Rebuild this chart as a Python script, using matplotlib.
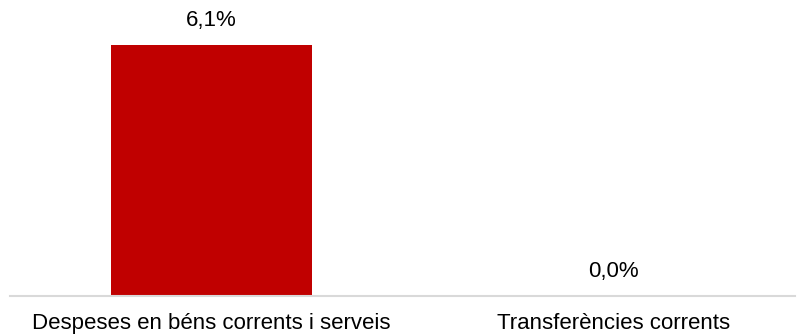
import matplotlib
matplotlib.use('Agg')
import matplotlib.pyplot as plt

categories = ['Despeses en béns corrents i serveis', 'Transferències corrents']
values = [6.1, 0.0]
value_labels = ['6,1%', '0,0%']

plt.rcParams['font.family'] = ['Liberation Sans', 'DejaVu Sans']

fig = plt.figure(figsize=(8.03, 3.35), dpi=100)
ax = fig.add_axes([10 / 803, 39 / 335, 785 / 803, 296 / 335])

x = range(len(categories))
ax.bar(x, values, width=0.5, color='#C00000', zorder=2)

for xi, v, lab in zip(x, values, value_labels):
    ax.annotate(lab, (xi, v), xytext=(0, 10), textcoords='offset points',
                ha='center', va='bottom', fontsize=16)

ax.set_xlim(-0.5, 1.45)
ax.set_ylim(0, 7.19)
ax.set_xticks(list(x))
ax.set_xticklabels(categories, fontsize=16)
ax.tick_params(axis='x', length=0, pad=12)
ax.set_yticks([])
for s in ['top', 'right', 'left']:
    ax.spines[s].set_visible(False)
ax.spines['bottom'].set_color('#d9d9d9')
ax.spines['bottom'].set_linewidth(1.5)

fig.savefig('out.png', dpi=100)
